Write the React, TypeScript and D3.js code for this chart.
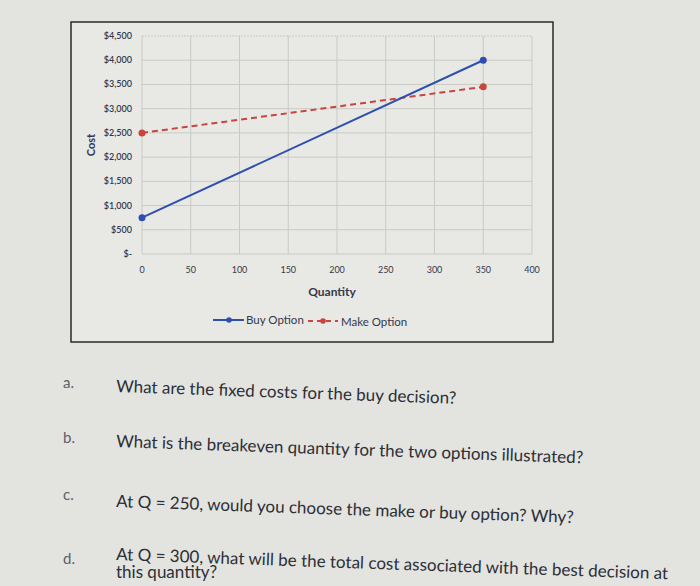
import * as d3 from 'd3';

const quantityTicks = [0, 50, 100, 150, 200, 250, 300, 350, 400];
const costTicks = [0, 500, 1000, 1500, 2000, 2500, 3000, 3500, 4000, 4500];
const buyQuantity = [0, 350];
const buyCost = [750, 4000];
const makeQuantity = [0, 350];
const makeCost = [2500, 3450];
const questionLetters = ['a.', 'b.', 'c.', 'd.'];
const questionLines = [
  ['What are the fixed costs for the buy decision?'],
  ['What is the breakeven quantity for the two options illustrated?'],
  ['At Q = 250, would you choose the make or buy option? Why?'],
  ['At Q = 300, what will be the total cost associated with the best decision at', 'this quantity?'],
];

const width = 700;
const height = 586;
const plot = { left: 142, right: 532, top: 36, bottom: 254 };
const blue = '#2f4fb0';
const red = '#c8443c';
const font = 'Lato, "Open Sans", sans-serif';

const fmt = (v: number) => (v === 0 ? '$-' : '$' + d3.format(',')(v));

export default function App() {
  const x = d3.scaleLinear([0, 400], [plot.left, plot.right]);
  const y = d3.scaleLinear([0, 4500], [plot.bottom, plot.top]);
  const line = d3.line<[number, number]>((d) => x(d[0]), (d) => y(d[1]));
  const buy = buyQuantity.map((q, i) => [q, buyCost[i]] as [number, number]);
  const make = makeQuantity.map((q, i) => [q, makeCost[i]] as [number, number]);
  // baselines of the question texts and their letters (the photo is slightly tilted)
  const qY = [392, 447, 507, 560];
  const lY = [388, 443, 500, 564];

  return (
    <svg
      width={width}
      height={height}
      style={{ position: 'absolute', left: 0, top: 0, background: '#e3e3e0' }}
      fontFamily={font}
    >
      <rect x={0} y={0} width={width} height={height} fill="#e3e3e0" />
      <rect x={71} y={22} width={482} height={320} fill="#e8e8e5" stroke="#2a2a2a" strokeWidth={1.5} />

      {/* grid */}
      {costTicks.map((t) => (
        <line key={'h' + t} x1={plot.left} x2={plot.right} y1={y(t)} y2={y(t)}
          stroke="#c9c9c6" strokeWidth={1} strokeDasharray={t === 4500 ? '2 1' : undefined} />
      ))}
      {quantityTicks.map((t) => (
        <line key={'v' + t} x1={x(t)} x2={x(t)} y1={plot.top} y2={plot.bottom}
          stroke="#c9c9c6" strokeWidth={1} />
      ))}

      {/* y tick labels */}
      {costTicks.map((t) => (
        <text key={'yl' + t} x={plot.left - 10} y={y(t) + 3} fontSize={9} fill="#34384a"
          textAnchor="end" fontWeight={600}>
          {fmt(t)}
        </text>
      ))}
      {/* x tick labels */}
      {quantityTicks.map((t) => (
        <text key={'xl' + t} x={x(t)} y={plot.bottom + 19} fontSize={9} fill="#34384a" textAnchor="middle">
          {t}
        </text>
      ))}

      <text transform={`translate(95,${(plot.top + plot.bottom) / 2}) rotate(-90)`} textAnchor="middle"
        fontSize={11} fontWeight={700} fill="#34384a">
        Cost
      </text>
      <text x={(plot.left + plot.right) / 2 - 5} y={296} textAnchor="middle" fontSize={12}
        fontWeight={700} fill="#34384a">
        Quantity
      </text>

      {/* series */}
      <path d={line(make) ?? ''} fill="none" stroke={red} strokeWidth={2} strokeDasharray="6 4" />
      <path d={line(buy) ?? ''} fill="none" stroke={blue} strokeWidth={2} />
      {buy.map((d, i) => (
        <circle key={'b' + i} cx={x(d[0])} cy={y(d[1])} r={3.5} fill={blue} />
      ))}
      {make.map((d, i) => (
        <circle key={'m' + i} cx={x(d[0])} cy={y(d[1])} r={3.5} fill={red} />
      ))}

      {/* legend */}
      <g fontSize={11.5} fill="#34384a">
        <line x1={213} x2={244} y1={320} y2={320} stroke={blue} strokeWidth={2} />
        <circle cx={229} cy={320} r={2.8} fill={blue} />
        <text x={246} y={324}>Buy Option</text>
        <line x1={308} x2={338} y1={321} y2={321} stroke={red} strokeWidth={2} strokeDasharray="5 4" />
        <circle cx={323} cy={321} r={2.8} fill={red} />
        <text x={341} y={326}>Make Option</text>
      </g>

      {/* questions */}
      {questionLetters.map((l, i) => (
        <g key={l}>
          <text x={63} y={lY[i]} fontSize={15} fill="#5d6066">{l}</text>
          {questionLines[i].map((s, j) => (
            <text key={j} x={116} y={qY[i] + j * 18} fontSize={17} fill="#2c2f36"
              transform={`rotate(${j === 0 ? 2 : 0} 116 ${qY[i] + j * 18})`}>
              {s}
            </text>
          ))}
        </g>
      ))}
    </svg>
  );
}
